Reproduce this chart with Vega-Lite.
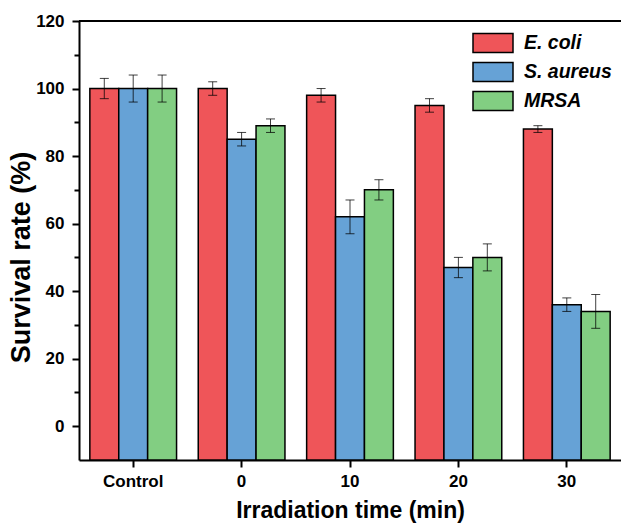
{
  "$schema": "https://vega.github.io/schema/vega-lite/v6.json",
  "width": 542,
  "height": 439,
  "autosize": "none",
  "padding": {"left": 79, "top": 21, "right": 0, "bottom": 65},
  "background": "white",
  "config": {"view": {"stroke": null}, "font": "Liberation Sans"},
  "data": {
    "values": [
      {"group": "Control", "species": "E. coli", "value": 100, "low": 97, "high": 103},
      {"group": "Control", "species": "S. aureus", "value": 100, "low": 96, "high": 104},
      {"group": "Control", "species": "MRSA", "value": 100, "low": 96, "high": 104},
      {"group": "0", "species": "E. coli", "value": 100, "low": 98, "high": 102},
      {"group": "0", "species": "S. aureus", "value": 85, "low": 83, "high": 87},
      {"group": "0", "species": "MRSA", "value": 89, "low": 87, "high": 91},
      {"group": "10", "species": "E. coli", "value": 98, "low": 96, "high": 100},
      {"group": "10", "species": "S. aureus", "value": 62, "low": 57, "high": 67},
      {"group": "10", "species": "MRSA", "value": 70, "low": 67, "high": 73},
      {"group": "20", "species": "E. coli", "value": 95, "low": 93, "high": 97},
      {"group": "20", "species": "S. aureus", "value": 47, "low": 44, "high": 50},
      {"group": "20", "species": "MRSA", "value": 50, "low": 46, "high": 54},
      {"group": "30", "species": "E. coli", "value": 88, "low": 87, "high": 89},
      {"group": "30", "species": "S. aureus", "value": 36, "low": 34, "high": 38},
      {"group": "30", "species": "MRSA", "value": 34, "low": 29, "high": 39}
    ]
  },
  "encoding": {
    "y": {
      "type": "quantitative",
      "scale": {"domain": [-10, 120], "nice": false, "zero": false},
      "title": "Survival rate (%)",
      "axis": {
        "orient": "left",
        "values": [0, 10, 20, 30, 40, 50, 60, 70, 80, 90, 100, 110, 120],
        "labelExpr": "datum.value % 20 == 0 ? datum.label : ''",
        "tickSize": {"condition": {"test": "datum.value % 20 != 0", "value": 5}, "value": 7},
        "tickWidth": 2,
        "tickColor": "black",
        "domainWidth": 2,
        "domainColor": "black",
        "labelFontSize": 17,
        "labelFontWeight": "bold",
        "labelColor": "black",
        "labelPadding": 8,
        "titleFontSize": 27,
        "titleFontWeight": "bold",
        "titleColor": "black",
        "titlePadding": 0,
        "titleY": 236,
        "grid": false
      }
    }
  },
  "layer": [
    {
      "encoding": {
        "x": {
          "field": "group",
          "type": "nominal",
          "sort": ["Control", "0", "10", "20", "30"],
          "scale": {"paddingInner": 0.2, "paddingOuter": 0.1},
          "title": "Irradiation time (min)",
          "axis": {
            "labelAngle": 0,
            "labelFontSize": 17,
            "labelFontWeight": "bold",
            "labelColor": "black",
            "labelPadding": 6,
            "tickSize": 7,
            "tickWidth": 2,
            "tickColor": "black",
            "domainWidth": 2,
            "domainColor": "black",
            "titleFontSize": 23,
            "titleFontWeight": "bold",
            "titleColor": "black",
            "titlePadding": 10
          }
        },
        "xOffset": {
          "field": "species",
          "type": "nominal",
          "sort": ["E. coli", "S. aureus", "MRSA"],
          "scale": {"paddingInner": 0, "paddingOuter": 0}
        }
      },
      "layer": [
        {
          "mark": {"type": "bar", "stroke": "black", "strokeWidth": 1.5},
          "encoding": {
            "y": {"field": "value"},
            "y2": {"datum": -10},
            "fill": {
              "field": "species",
              "type": "nominal",
              "sort": ["E. coli", "S. aureus", "MRSA"],
              "scale": {
                "domain": ["E. coli", "S. aureus", "MRSA"],
                "range": ["#EF5559", "#66A2D6", "#82CE82"]
              },
              "legend": {
                "title": null,
                "orient": "none",
                "legendX": 403,
                "legendY": 11,
                "padding": 0,
                "symbolType": "M-2,-0.95H2V0.95H-2Z",
                "symbolSize": 400,
                "symbolStrokeColor": "black",
                "symbolStrokeWidth": 1.5,
                "symbolOpacity": 1,
                "labelFontSize": 19.5,
                "labelFontStyle": "italic",
                "labelFontWeight": "bold",
                "labelColor": "black",
                "labelOffset": 20,
                "rowPadding": 3
              }
            }
          }
        },
        {
          "mark": {"type": "rule", "color": "black", "opacity": 0.75, "strokeWidth": 1},
          "encoding": {
            "y": {"field": "low"},
            "y2": {"field": "high"}
          }
        },
        {
          "mark": {"type": "tick", "color": "black", "opacity": 0.75, "size": 9, "thickness": 1},
          "encoding": {"y": {"field": "low"}}
        },
        {
          "mark": {"type": "tick", "color": "black", "opacity": 0.75, "size": 9, "thickness": 1},
          "encoding": {"y": {"field": "high"}}
        }
      ]
    },
    {
      "mark": {"type": "rule", "color": "black", "strokeWidth": 2},
      "encoding": {"y": {"datum": 120}}
    }
  ]
}
